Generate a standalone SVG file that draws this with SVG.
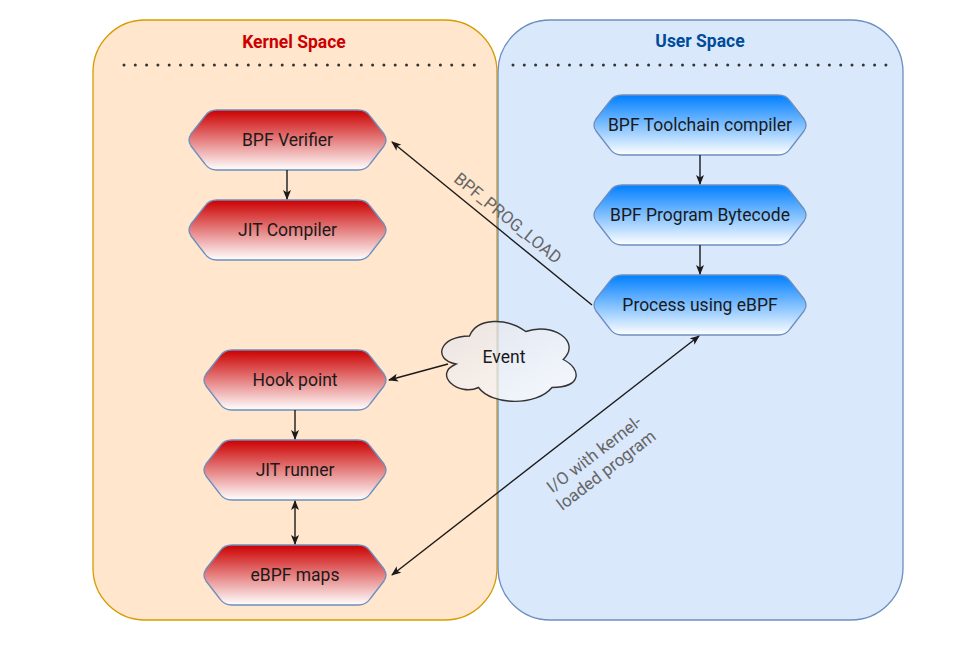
<svg xmlns="http://www.w3.org/2000/svg" width="978" height="649" viewBox="0 0 978 649">
<style>
.ntext { font-family: Roboto, "Liberation Sans", sans-serif; font-size: 17.5px; fill: #1a1a1a; text-anchor: middle; dominant-baseline: central; }
.red { fill: url(#gRed); stroke: #6c8ebf; stroke-width: 1.3; }
.blue { fill: url(#gBlue); stroke: #6c8ebf; stroke-width: 1.3; }
.edge { stroke: #1a1a1a; stroke-width: 1.4; fill: none; }
.elbl { font-family: Roboto, "Liberation Sans", sans-serif; font-size: 17px; fill: #666666; text-anchor: middle; dominant-baseline: central; }
.title { font-family: Roboto, "Liberation Sans", sans-serif; font-size: 17.5px; font-weight: bold; text-anchor: middle; dominant-baseline: central; }
.dots { stroke: #333333; stroke-width: 3; stroke-dasharray: 0 11.3; stroke-linecap: round; fill: none; }
</style>
<defs>
<linearGradient id="gRed" x1="0" y1="0" x2="0" y2="1">
<stop offset="0" stop-color="#cc0000"/>
<stop offset="1" stop-color="#ffffff"/>
</linearGradient>
<linearGradient id="gBlue" x1="0" y1="0" x2="0" y2="1">
<stop offset="0" stop-color="#007fff"/>
<stop offset="1" stop-color="#ffffff"/>
</linearGradient>
<linearGradient id="gCloud" x1="0" y1="0" x2="1" y2="1">
<stop offset="0" stop-color="#e2e2e8"/>
<stop offset="1" stop-color="#ffffff"/>
</linearGradient>
<marker id="arr" viewBox="0 0 10 8" refX="9" refY="4" markerWidth="10" markerHeight="8" markerUnits="userSpaceOnUse" orient="auto-start-reverse">
<path d="M0,0 L10,4 L0,8 L2.5,4 Z" fill="#1a1a1a"/>
</marker>
</defs>

<g id="kernel-space">
<rect x="93" y="20" width="404" height="600" rx="52" fill="#ffe6cc" stroke="#d79b00" stroke-width="1.3"/>
<text class="title" x="294" y="42" fill="#cc0000">Kernel Space</text>
<line class="dots" x1="124" y1="65" x2="476" y2="65"/>
</g>
<g id="user-space">
<rect x="498" y="20" width="405" height="600" rx="52" fill="#dae8fc" stroke="#6c8ebf" stroke-width="1.3"/>
<text class="title" x="700" y="41" fill="#004c99">User Space</text>
<line class="dots" x1="513" y1="65" x2="889" y2="65"/>
</g>

<g id="bpf-verifier" transform="translate(187,110)">
<path class="red" d="M30,0 L171,0 Q179,0 183,6 L197,24 Q201,30 197,36 L183,54 Q179,60 171,60 L30,60 Q22,60 18,54 L4,36 Q0,30 4,24 L18,6 Q22,0 30,0 Z"/>
<text class="ntext" x="100.5" y="30">BPF Verifier</text>
</g>
<g id="jit-compiler" transform="translate(187,200)">
<path class="red" d="M30,0 L171,0 Q179,0 183,6 L197,24 Q201,30 197,36 L183,54 Q179,60 171,60 L30,60 Q22,60 18,54 L4,36 Q0,30 4,24 L18,6 Q22,0 30,0 Z"/>
<text class="ntext" x="100.5" y="30">JIT Compiler</text>
</g>
<g id="hook-point" transform="translate(202,350)">
<path class="red" d="M30,0 L156,0 Q164,0 168,6 L182,24 Q186,30 182,36 L168,54 Q164,60 156,60 L30,60 Q22,60 18,54 L4,36 Q0,30 4,24 L18,6 Q22,0 30,0 Z"/>
<text class="ntext" x="93" y="30">Hook point</text>
</g>
<g id="jit-runner" transform="translate(202,440)">
<path class="red" d="M30,0 L156,0 Q164,0 168,6 L182,24 Q186,30 182,36 L168,54 Q164,60 156,60 L30,60 Q22,60 18,54 L4,36 Q0,30 4,24 L18,6 Q22,0 30,0 Z"/>
<text class="ntext" x="93" y="30">JIT runner</text>
</g>
<g id="ebpf-maps" transform="translate(202,545)">
<path class="red" d="M30,0 L156,0 Q164,0 168,6 L182,24 Q186,30 182,36 L168,54 Q164,60 156,60 L30,60 Q22,60 18,54 L4,36 Q0,30 4,24 L18,6 Q22,0 30,0 Z"/>
<text class="ntext" x="93" y="30">eBPF maps</text>
</g>

<g id="bpf-toolchain" transform="translate(592,95)">
<path class="blue" d="M30,0 L186,0 Q194,0 198,6 L212,24 Q216,30 212,36 L198,54 Q194,60 186,60 L30,60 Q22,60 18,54 L4,36 Q0,30 4,24 L18,6 Q22,0 30,0 Z"/>
<text class="ntext" x="108" y="30">BPF Toolchain compiler</text>
</g>
<g id="bpf-bytecode" transform="translate(592,185)">
<path class="blue" d="M30,0 L186,0 Q194,0 198,6 L212,24 Q216,30 212,36 L198,54 Q194,60 186,60 L30,60 Q22,60 18,54 L4,36 Q0,30 4,24 L18,6 Q22,0 30,0 Z"/>
<text class="ntext" x="108" y="30">BPF Program Bytecode</text>
</g>
<g id="process-ebpf" transform="translate(592,275)">
<path class="blue" d="M30,0 L186,0 Q194,0 198,6 L212,24 Q216,30 212,36 L198,54 Q194,60 186,60 L30,60 Q22,60 18,54 L4,36 Q0,30 4,24 L18,6 Q22,0 30,0 Z"/>
<text class="ntext" x="108" y="30">Process using eBPF</text>
</g>

<g id="event">
<path d="M469.5,336 C439.5,336 432,359.5 456,364 C432,374.5 459,397 478.5,387.5 C492,406 537,406 552,387.5 C582,387.5 582,369 563.25,359.5 C582,341 552,322 525.75,331.5 C507,317.5 477,317.5 469.5,336 Z" fill="url(#gCloud)" fill-opacity="0.72" stroke="#333333" stroke-width="1.4"/>
<text class="ntext" x="504" y="357">Event</text>
</g>

<g id="connectors">
<line class="edge" x1="287" y1="170" x2="287" y2="199" marker-end="url(#arr)"/>
<line class="edge" x1="295" y1="410" x2="295" y2="439" marker-end="url(#arr)"/>
<line class="edge" x1="295" y1="501" x2="295" y2="544" marker-start="url(#arr)" marker-end="url(#arr)"/>
<line class="edge" x1="700" y1="155" x2="700" y2="184" marker-end="url(#arr)"/>
<line class="edge" x1="700" y1="245" x2="700" y2="274" marker-end="url(#arr)"/>
<line class="edge" x1="592" y1="305" x2="392" y2="142" marker-end="url(#arr)"/>
<text class="elbl" transform="translate(508,218) rotate(39.2)" x="0" y="0">BPF_PROG_LOAD</text>
<line class="edge" x1="448" y1="364" x2="389" y2="380" marker-end="url(#arr)"/>
<line class="edge" x1="392" y1="575" x2="699" y2="336" marker-start="url(#arr)" marker-end="url(#arr)"/>
<text class="elbl" transform="translate(600,462) rotate(-37.5)"><tspan x="0" y="-10">I/O with kernel-</tspan><tspan x="0" y="10">loaded program</tspan></text>
</g>
</svg>
